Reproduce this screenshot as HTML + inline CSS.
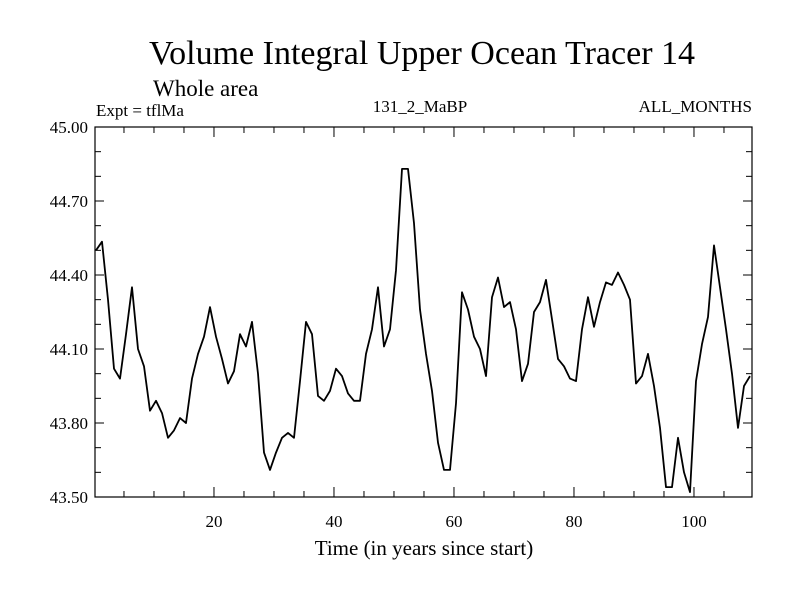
<!DOCTYPE html>
<html><head><meta charset="utf-8"><style>
body{margin:0;background:#fff;}
svg{display:block;font-family:"Liberation Serif",serif;}
</style></head><body>
<svg id="chart" width="800" height="600" viewBox="0 0 800 600">
<text x="422" y="64" font-size="34" text-anchor="middle">Volume Integral Upper Ocean Tracer 14</text>
<text x="153" y="96" font-size="23">Whole area</text>
<text x="96" y="116" font-size="17">Expt = tflMa</text>
<text x="420" y="112" font-size="17" text-anchor="middle">131_2_MaBP</text>
<text x="752" y="112" font-size="17" text-anchor="end">ALL_MONTHS</text>
<text x="424" y="555" font-size="21" text-anchor="middle">Time (in years since start)</text>
<g id="axes"></g>
<rect x="95" y="127" width="657" height="370" fill="none" stroke="#000" stroke-width="1.2"/>
<polyline id="series" fill="none" stroke="#000" stroke-width="1.8" stroke-linejoin="round"/>
</svg>
<script>
const values = [44.50,44.535,44.30,44.02,43.98,44.16,44.35,44.10,44.03,43.85,43.89,43.84,43.74,43.77,43.82,43.80,43.98,44.08,44.15,44.27,
44.15,44.06,43.96,44.01,44.16,44.11,44.21,44.00,43.68,43.61,43.68,43.74,43.76,43.74,43.97,44.21,44.16,43.91,43.89,43.93,
44.02,43.99,43.92,43.89,43.89,44.08,44.18,44.35,44.11,44.18,44.42,44.83,44.83,44.61,44.26,44.08,43.93,43.72,43.61,43.61,
43.88,44.33,44.26,44.15,44.10,43.99,44.31,44.39,44.27,44.29,44.18,43.97,44.04,44.25,44.29,44.38,44.22,44.06,44.03,43.98,
43.97,44.18,44.31,44.19,44.29,44.37,44.36,44.41,44.36,44.30,43.96,43.99,44.08,43.95,43.78,43.54,43.54,43.74,43.60,43.52,
43.97,44.12,44.23,44.52,44.35,44.18,44.00,43.78,43.95,43.99];
const yTickLabels = ["43.50","43.80","44.10","44.40","44.70","45.00"];
const xTickLabels = ["20","40","60","80","100"];
const startYear = 0.33;
const X0=95,X1=752,Y0=127,Y1=497;
const xMinYear=0.17, xMaxYear=109.67;
const yMin=43.5,yMax=45.0;
function xs(v){return X0+(v-xMinYear)/(xMaxYear-xMinYear)*(X1-X0);}
function ys(v){return Y1-(v-yMin)/(yMax-yMin)*(Y1-Y0);}
const NS="http://www.w3.org/2000/svg";
const axes=document.getElementById('axes');
function line(x1,y1,x2,y2,name){const l=document.createElementNS(NS,'line');
l.setAttribute('x1',x1);l.setAttribute('y1',y1);l.setAttribute('x2',x2);l.setAttribute('y2',y2);
l.setAttribute('stroke','#000');l.setAttribute('stroke-width','1');


axes.appendChild(l);}
function text(x,y,s,anchor,size,name){const t=document.createElementNS(NS,'text');
t.setAttribute('x',x);t.setAttribute('y',y);t.setAttribute('text-anchor',anchor);t.setAttribute('font-size',size);t.textContent=s;


axes.appendChild(t);}
for(let v=43.6;v<45.0;v+=0.1){const y=ys(v);const major=Math.abs(((v-43.5)/0.3)-Math.round((v-43.5)/0.3))<0.01;const L=major?9:6;
line(X0,y,X0+L,y,'y-tick');line(X1,y,X1-L,y,'y-tick');}
yTickLabels.forEach(s=>{text(88,ys(parseFloat(s))+6,s,'end',17,'y-tick-label');});
for(let yr=5;yr<110;yr+=5){const x=xs(yr);const L=(yr%20===0)?10:6;
line(x,Y1,x,Y1-L,'x-tick');line(x,Y0,x,Y0+L,'x-tick');}
xTickLabels.forEach(s=>{text(xs(parseFloat(s)),527,s,'middle',17,'x-tick-label');});
document.getElementById('series').setAttribute('points',values.map((v,i)=>xs(startYear+i).toFixed(1)+','+ys(v).toFixed(1)).join(' '));
</script>
</body></html>
